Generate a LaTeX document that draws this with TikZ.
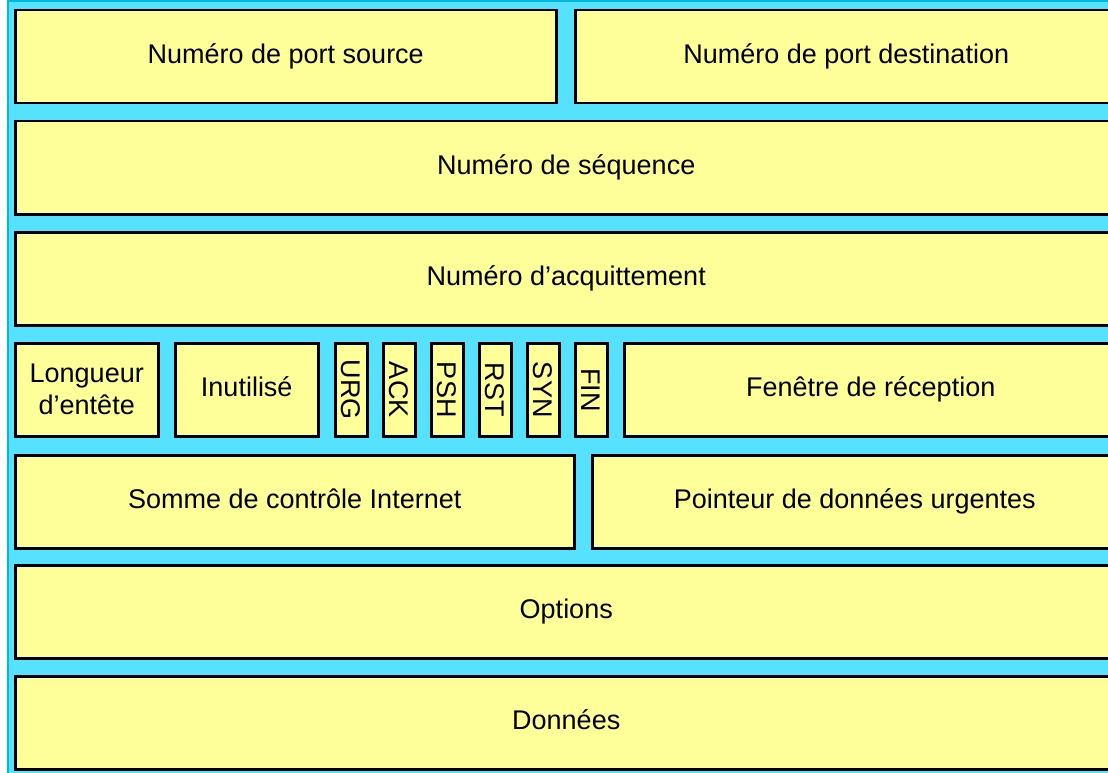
\documentclass[tikz,border=0pt]{standalone}
\usepackage{fontspec}
\setmainfont{Liberation Sans}
\usetikzlibrary{positioning}
\definecolor{fieldyellow}{HTML}{FFFF99}
\definecolor{bgcyan}{HTML}{55E1FF}
\definecolor{edgecyan}{HTML}{00B9DD}

\begin{document}
\begin{tikzpicture}[x=1pt,y=-1pt,
    field/.style={draw,fill=fieldyellow,line width=2.5pt,anchor=north west,
                  minimum height=93pt,inner sep=0pt,align=center,
                  text height=19pt,text depth=6pt,
                  font=\fontsize{27}{32}\selectfont},
    flag/.style={field,minimum width=32pt,text height={},text depth={}}]
\useasboundingbox (0,0) rectangle (1108,773);
\clip (0,0) rectangle (1108,773);
\fill[bgcyan,draw=edgecyan,line width=2pt] (8,1) rectangle (1140,800);

% ports
\node[field,minimum width=541pt] (SrcPort) at (14,9) {Numéro de port source};
\node[field,minimum width=542pt] (DstPort) at (574,9) {Numéro de port destination};

\node[field,minimum width=1102pt] (SeqNum) at (14,120) {Numéro de séquence};
\node[field,minimum width=1102pt] (AckNum) at (14,231) {Numéro d’acquittement};

% header length, reserved bits, flags, window
\node[field,minimum width=143pt,text height={},text depth={}] (HdrLen) at (14,342) {Longueur\\d’entête};
\node[field,minimum width=143pt] (Unused) at (174,342) {Inutilisé};
\foreach \f [count=\i from 0] in {URG,ACK,PSH,RST,SYN,FIN}
   \node[flag] (\f) at (334+48*\i,342) {\rotatebox{-90}{\f}};
\node[field,minimum width=493pt] (Window) at (623,342) {Fenêtre de réception};

\node[field,minimum width=559pt] (Checksum) at (14,454) {Somme de contrôle Internet};
\node[field,minimum width=525pt] (UrgPtr) at (591,454) {Pointeur de données urgentes};

\node[field,minimum width=1102pt] (Options) at (14,564) {Options};
\node[field,minimum width=1102pt] (Data) at (14,675) {Données};
\end{tikzpicture}
\end{document}
